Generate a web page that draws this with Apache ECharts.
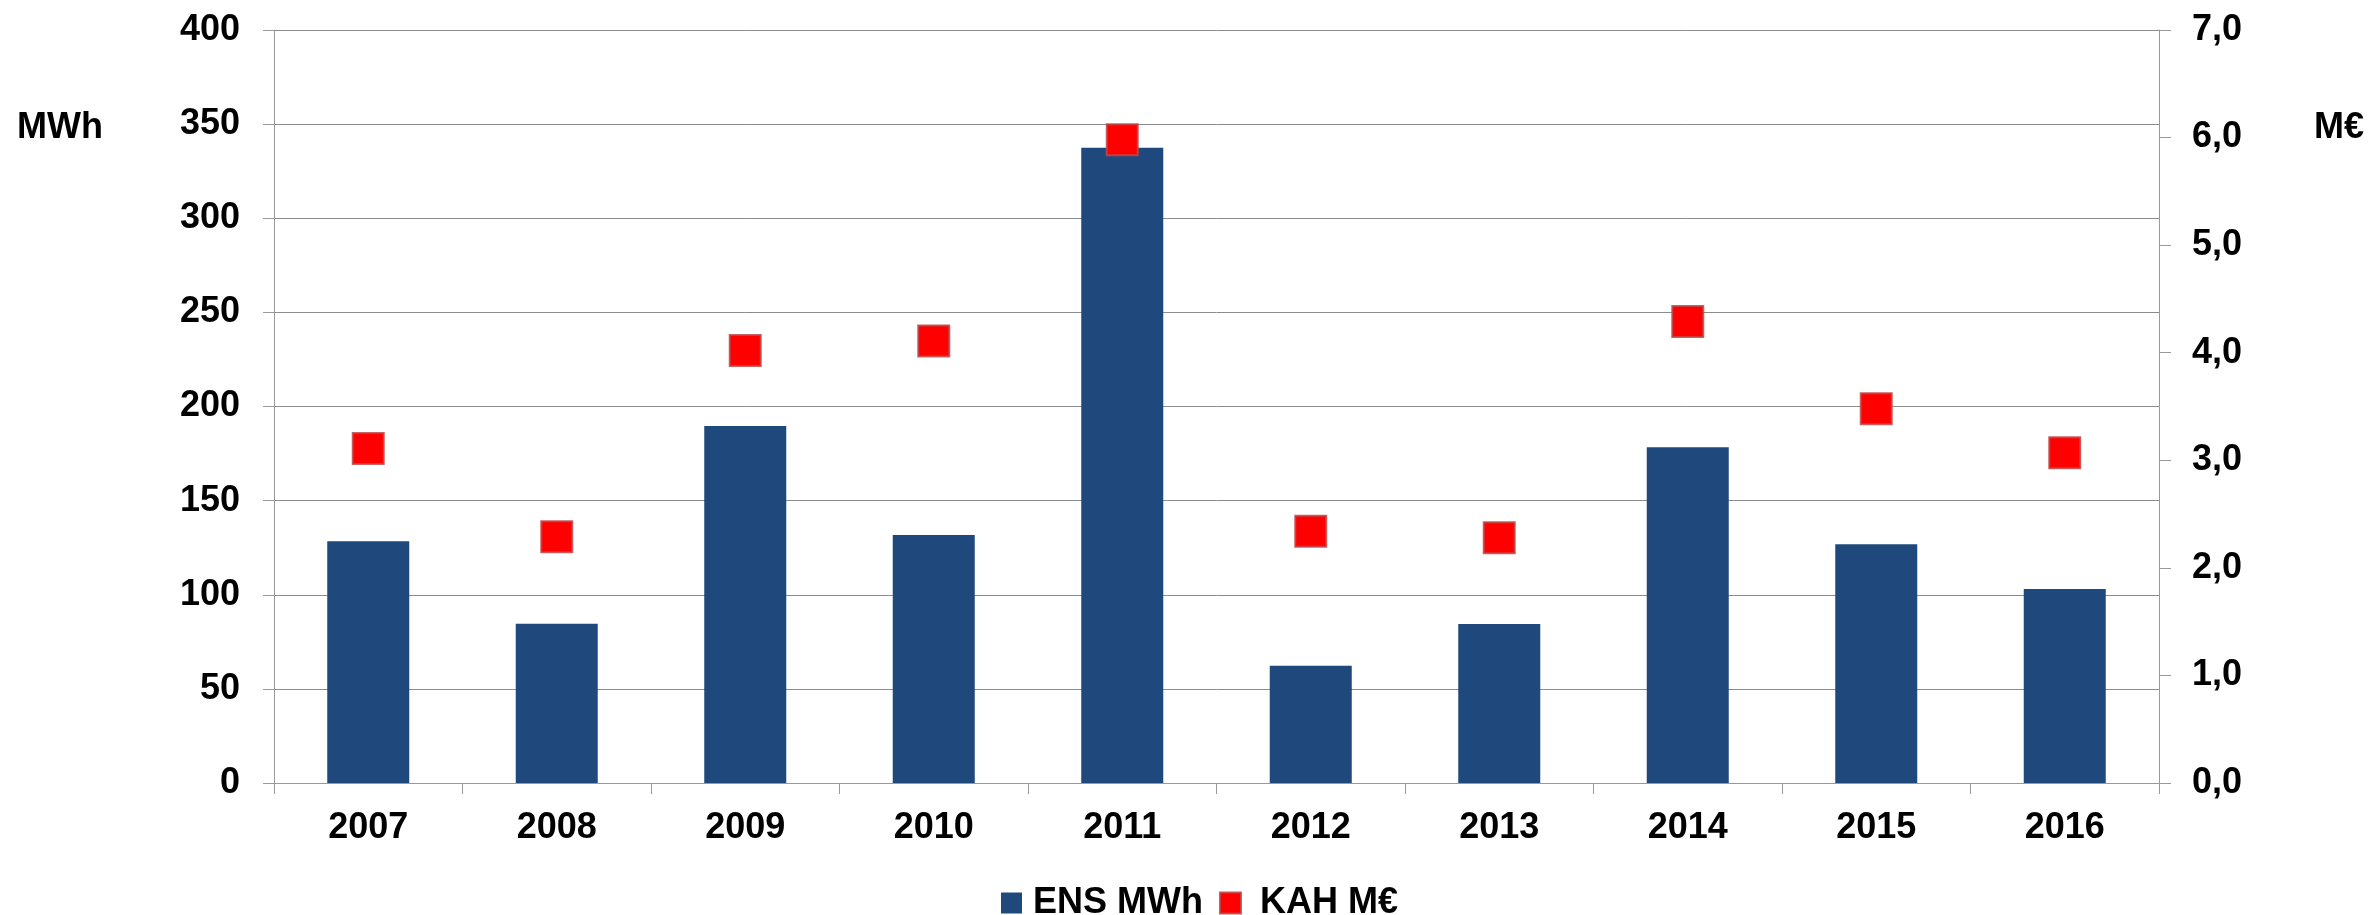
<!DOCTYPE html>
<html>
<head>
<meta charset="utf-8">
<script src="https://cdn.jsdelivr.net/npm/echarts@6/dist/echarts.min.js"></script>
<style>
html,body{margin:0;padding:0;background:#fff;}
#chart{width:2379px;height:915px;}
</style>
</head>
<body>
<div id="chart"></div>
<script>
const years = ['2007','2008','2009','2010','2011','2012','2013','2014','2015','2016'];
const ensMWh = [128.4, 84.6, 189.6, 131.7, 337.5, 62.3, 84.5, 178.3, 126.8, 103];
const kahMEur = [3.11, 2.29, 4.02, 4.11, 5.98, 2.34, 2.28, 4.29, 3.48, 3.07];
const leftUnit = 'MWh';
const rightUnit = 'M€';
const seriesNames = ['ENS MWh', 'KAH M€'];

const FONT = '"Liberation Sans", Arial, sans-serif';
const FS = 36;
const axisGray = '#999999';
const gridGray = '#8c8c8c';

const chart = echarts.init(document.getElementById('chart'), null, {renderer: 'canvas'});
chart.setOption({
  animation: false,
  backgroundColor: '#ffffff',
  grid: {left: 274, right: 220, top: 30, bottom: 132, containLabel: false},
  legend: {
    data: [
      {name: seriesNames[0], icon: 'rect', textStyle: {padding: [0, 0, 0, 6]}},
      {name: seriesNames[1], icon: 'rect', textStyle: {padding: [0, 0, 0, 14]}}
    ],
    top: 880,
    left: 996,
    itemWidth: 21,
    itemHeight: 21,
    itemGap: 16,
    textStyle: {fontFamily: FONT, fontWeight: 'bold', fontSize: FS, color: '#000'}
  },
  graphic: [
    {type: 'text', left: 17, top: 110, style: {text: leftUnit, font: 'bold ' + FS + 'px ' + FONT, fill: '#000'}},
    {type: 'text', left: 2314, top: 110, style: {text: rightUnit, font: 'bold ' + FS + 'px ' + FONT, fill: '#000'}}
  ],
  xAxis: {
    type: 'category',
    data: years,
    boundaryGap: true,
    axisLine: {show: true, lineStyle: {color: axisGray, width: 1}},
    axisTick: {show: true, inside: false, length: 11, alignWithLabel: false, lineStyle: {color: axisGray}},
    axisLabel: {fontFamily: FONT, fontWeight: 'bold', fontSize: FS, color: '#000', margin: 27},
    splitLine: {show: false}
  },
  yAxis: [
    {
      type: 'value', min: 0, max: 400, interval: 50, position: 'left',
      axisLine: {show: true, lineStyle: {color: axisGray, width: 1}},
      axisTick: {show: true, inside: false, length: 11, lineStyle: {color: axisGray}},
      axisLabel: {fontFamily: FONT, fontWeight: 'bold', fontSize: FS, color: '#000', margin: 34},
      splitLine: {show: true, lineStyle: {color: gridGray, width: 1}}
    },
    {
      type: 'value', min: 0, max: 7, interval: 1, position: 'right',
      axisLine: {show: true, lineStyle: {color: axisGray, width: 1}},
      axisTick: {show: true, inside: false, length: 12, lineStyle: {color: axisGray}},
      axisLabel: {fontFamily: FONT, fontWeight: 'bold', fontSize: FS, color: '#000', margin: 33,
        formatter: v => v.toFixed(1).replace('.', ',')},
      splitLine: {show: false}
    }
  ],
  series: [
    {
      name: seriesNames[0], type: 'bar', yAxisIndex: 0, data: ensMWh,
      barWidth: 82,
      itemStyle: {color: '#1f497d'},
      z: 2
    },
    {
      name: seriesNames[1], type: 'scatter', yAxisIndex: 1, data: kahMEur,
      symbol: 'rect', symbolSize: 31,
      itemStyle: {color: '#ff0000', borderColor: 'rgba(190,70,70,0.85)', borderWidth: 2, opacity: 1},
      z: 5
    }
  ]
});
</script>
</body>
</html>
